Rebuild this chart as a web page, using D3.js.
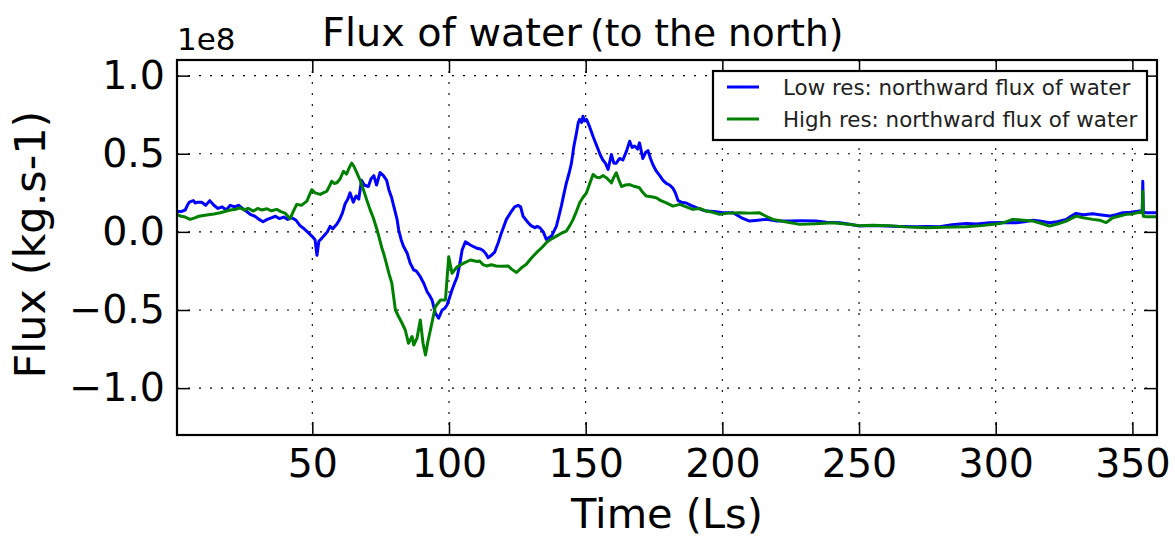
<!DOCTYPE html>
<html>
<head>
<meta charset="utf-8">
<script src="https://cdn.jsdelivr.net/npm/d3@7"></script>
<style>
  html, body { margin: 0; padding: 0; background: #fff; }
  svg { display: block; font-family: "DejaVu Sans", sans-serif; }
</style>
</head>
<body>
<svg id="chart" width="1175" height="543"></svg>
<script>
// Northward water flux (units of 1e8 kg/s) against solar longitude Ls
const lowRes = [
  [0.5,0.13],[2,0.13],[3.5,0.14],[4.3,0.17],[5,0.19],[6.5,0.2],[7.2,0.185],[8,0.19],[9.5,0.19],[11,0.17],[12.5,0.2],[14,0.17],
  [15.5,0.15],[17,0.16],[18.5,0.14],[20,0.17],[21.5,0.16],[23,0.17],[24.5,0.15],[26,0.13],[27.5,0.11],[29,0.1],
  [30.5,0.08],[32,0.065],[33.5,0.08],[35,0.09],[36.5,0.1],[38,0.085],[39.5,0.095],[41,0.08],[42.5,0.09],[44,0.075],
  [45.5,0.04],[47,0.02],[48.5,-0.005],[50,-0.03],[51,-0.05],[51.7,-0.15],[52.4,-0.06],[53.5,-0.04],[54.5,-0.02],[55.5,0.0],
  [56.5,0.035],[57.5,0.02],[59,0.05],[60,0.08],[61,0.12],[62,0.18],[63,0.21],[63.8,0.25],[65,0.19],[66,0.23],
  [67,0.21],[68,0.33],[69,0.30],[70.5,0.29],[71.5,0.34],[72.5,0.36],[73.5,0.3],[74.8,0.38],[76,0.36],[77.2,0.33],
  [78,0.27],[79,0.22],[80,0.15],[81,0.08],[81.6,0.012],[82.5,-0.05],[83.3,-0.09],[84.7,-0.137],[85.8,-0.2],[87.1,-0.244],[88,-0.25],
  [89.5,-0.287],[90.8,-0.33],[92,-0.383],[93,-0.41],[93.8,-0.436],[95,-0.52],[96.2,-0.553],[97.5,-0.5],[98.4,-0.49],[99.3,-0.468],
  [100.4,-0.41],[101.1,-0.372],[102,-0.33],[103,-0.287],[104,-0.2],[104.8,-0.116],[106,-0.063],[107.8,-0.084],[109,-0.095],[110.3,-0.105],
  [111.5,-0.11],[112.5,-0.12],[113.5,-0.14],[114.3,-0.165],[115.5,-0.15],[116.7,-0.13],[118,-0.07],[119.2,-0.005],[121,0.08],[122.8,0.13],
  [124,0.16],[125.3,0.17],[126.2,0.16],[127.1,0.10],[128.9,0.06],[130,0.04],[131.4,0.027],[132.3,0.035],[133.2,0.027],[134.5,0.0],
  [135.6,-0.048],[137.5,-0.027],[139.3,0.037],[140.2,0.1],[141.1,0.165],[142,0.24],[142.9,0.31],[144,0.38],[144.8,0.44],[145.7,0.55],
  [146.6,0.63],[147.3,0.70],[147.8,0.72],[148.5,0.7],[149,0.74],[149.6,0.71],[150.3,0.72],[151.5,0.67],[152.7,0.61],[153.6,0.57],
  [154.5,0.53],[155.4,0.49],[156.3,0.46],[157.2,0.44],[158.2,0.40],[159.4,0.495],[160.3,0.44],[161.2,0.44],[162.4,0.47],[163.6,0.46],
  [165,0.52],[166.1,0.58],[167,0.54],[167.9,0.55],[169,0.53],[169.7,0.57],[170.9,0.47],[172,0.51],[172.8,0.52],[173.7,0.47],
  [174.6,0.43],[175.8,0.39],[177.1,0.36],[178.3,0.33],[179.5,0.31],[180.7,0.30],[181.9,0.28],[182.8,0.25],[183.8,0.2],[185,0.19],
  [186.8,0.185],[188.5,0.17],[190.5,0.155],[192,0.145],[194.1,0.133],[197,0.13],[200.2,0.122],[203.9,0.122],[207,0.09],[210,0.069],
  [213,0.075],[216.1,0.08],[220,0.07],[224.6,0.069],[229,0.072],[234.3,0.069],[238,0.062],[242.9,0.059],[246,0.05],[250.2,0.037],
  [255,0.04],[259.9,0.037],[265,0.035],[270.9,0.033],[275,0.035],[279.4,0.033],[284,0.045],[289.2,0.054],[293,0.05],[297.7,0.059],
  [302,0.06],[307.5,0.059],[310.5,0.065],[313.6,0.075],[316,0.07],[319.7,0.059],[322.5,0.065],[325.8,0.08],[327.5,0.1],[329.4,0.118],
  [332,0.11],[335.5,0.116],[338,0.11],[341.6,0.101],[344,0.11],[346.5,0.122],[349.5,0.125],[352.6,0.133],[353.6,0.13],[353.8,0.324],
  [354,0.13],[355,0.122],[359,0.122]
];

const highRes = [
  [0.5,0.11],[2,0.1],[3.5,0.095],[5.3,0.08],[7,0.09],[8.5,0.1],[10.2,0.105],[12,0.11],[14,0.115],[16.3,0.122],
  [18,0.13],[20,0.14],[22,0.145],[23.6,0.155],[25,0.14],[26.5,0.15],[28.5,0.133],[30,0.15],[31.5,0.14],[33.4,0.148],
  [35,0.135],[37,0.144],[38.5,0.13],[40,0.12],[41.9,0.084],[43,0.13],[44.3,0.176],[46,0.17],[48,0.197],[49.8,0.27],
  [51,0.25],[52.9,0.24],[54,0.25],[55.3,0.26],[56.2,0.29],[57.1,0.324],[58,0.31],[59,0.314],[60.2,0.34],[61.4,0.388],
  [62.5,0.37],[63.5,0.41],[64.4,0.44],[65.2,0.42],[66.3,0.378],[67.5,0.33],[68.7,0.27],[70,0.2],[71.1,0.144],[72.3,0.09],
  [73.7,0.012],[74.5,-0.04],[75.4,-0.1],[76.3,-0.15],[77.2,-0.21],[78.1,-0.27],[79.1,-0.33],[80.4,-0.5],[81.5,-0.54],[82.7,-0.58],
  [84,-0.628],[85.2,-0.713],[86.5,-0.67],[87.1,-0.724],[88.3,-0.68],[89.5,-0.564],[90.5,-0.713],[91.4,-0.788],[92.3,-0.7],[93.2,-0.628],
  [95,-0.479],[96.9,-0.436],[98.7,-0.436],[99.9,-0.159],[101.1,-0.265],[103,-0.223],[105.4,-0.2],[107.8,-0.18],[110.3,-0.19],
  [111.2,-0.186],[112.5,-0.21],[113.7,-0.218],[115.5,-0.21],[117.3,-0.218],[119.5,-0.22],[121.6,-0.218],[123,-0.24],
  [124.7,-0.26],[126.5,-0.23],[128.3,-0.207],[130,-0.17],[132,-0.133],[134,-0.1],[135.6,-0.069],[137.5,-0.045],[139.3,-0.027],[141,-0.01],
  [142.9,0.005],[144.2,0.04],[145.4,0.08],[146.6,0.13],[147.8,0.186],[149,0.22],[150.3,0.25],[151.5,0.31],[152.7,0.367],[153.9,0.35],
  [155.1,0.346],[156.3,0.36],[157.6,0.346],[158.5,0.33],[159.4,0.314],[160.3,0.35],[161.2,0.378],[162.2,0.33],[163.1,0.29],[164.6,0.3],
  [166.1,0.303],[168,0.29],[169.7,0.282],[171,0.25],[172.2,0.229],[174,0.225],[175.8,0.218],[177.5,0.2],[179.5,0.186],[181.9,0.165],
  [184.4,0.176],[186.8,0.16],[189.2,0.144],[191.7,0.15],[194.1,0.133],[196.5,0.125],[199,0.112],[202,0.12],[206.3,0.122],[210,0.12],
  [213.6,0.122],[216,0.1],[218.5,0.08],[223,0.065],[228.3,0.048],[234,0.052],[240.4,0.059],[245,0.05],[250.2,0.04],[255,0.042],
  [261,0.04],[267,0.032],[274.6,0.027],[281,0.03],[289.2,0.033],[295,0.04],[301.4,0.054],[304,0.065],[306.2,0.08],[310,0.075],
  [313.6,0.069],[316.5,0.055],[319.7,0.037],[322.5,0.05],[325.8,0.069],[327.5,0.085],[329.4,0.101],[332,0.09],[335.5,0.08],[338,0.075],
  [340.4,0.059],[342.8,0.09],[345,0.1],[347.7,0.112],[350,0.115],[352.6,0.126],[353.6,0.12],[353.8,0.26],[354,0.1],[355,0.097],
  [359,0.097]
];

const xTicks = [50, 100, 150, 200, 250, 300, 350];
const yTicks = [-1.0, -0.5, 0.0, 0.5, 1.0];
const seriesNames = ["Low res: northward flux of water", "High res: northward flux of water"];
const seriesColors = ["#0000ff", "#008000"];
const titleMain = "Flux of water";
const titleSub = "(to the north)";
const xLabelText = "Time (Ls)";
const yLabelText = "Flux (kg.s-1)";
const offsetText = "1e8";

const svg = d3.select("#chart");
const plotLeft = 177, plotTop = 60, plotRight = 1157, plotBottom = 435;
const W = plotRight - plotLeft, H = plotBottom - plotTop;

const x = d3.scaleLinear().domain([0.5, 359]).range([0, W]);
const y = d3.scaleLinear().domain([-1.3, 1.1]).range([H, 0]);

const g = svg.append("g").attr("transform", `translate(${plotLeft},${plotTop})`);

svg.append("defs").append("clipPath").attr("id", "plotclip")
  .append("rect").attr("x", 0).attr("y", 0).attr("width", W).attr("height", H);

// dotted grid
const grid = g.append("g").attr("stroke", "#000").attr("stroke-width", 1.1)
  .attr("stroke-dasharray", "2,9");
grid.selectAll("line.gx").data(xTicks).join("line")
  .attr("x1", d => x(d)).attr("x2", d => x(d)).attr("y1", 0).attr("y2", H);
grid.selectAll("line.gy").data(yTicks).join("line")
  .attr("x1", 0).attr("x2", W).attr("y1", d => y(d)).attr("y2", d => y(d));

// series
const line = d3.line().x(d => x(d[0])).y(d => y(d[1]));
const plot = g.append("g").attr("clip-path", "url(#plotclip)");
[lowRes, highRes].forEach((s, i) => {
  plot.append("path").datum(s)
    .attr("fill", "none").attr("stroke", seriesColors[i])
    .attr("stroke-width", 3).attr("stroke-linejoin", "round")
    .attr("d", line);
});

// axes with inward ticks on all sides
const tickStyle = sel => {
  sel.select(".domain").remove();
  sel.selectAll(".tick line").attr("stroke", "#000").attr("stroke-width", 1.5);
  sel.selectAll(".tick text").attr("fill", "#000").attr("font-size", 39.5)
    .attr("font-family", "DejaVu Sans, sans-serif");
};
g.append("g").attr("transform", `translate(0,${H})`)
  .call(d3.axisBottom(x).tickValues(xTicks).tickSize(-13).tickPadding(14).tickFormat(d3.format("d")))
  .call(tickStyle);
g.append("g")
  .call(d3.axisTop(x).tickValues(xTicks).tickSize(-13).tickFormat(""))
  .call(tickStyle);
g.append("g")
  .call(d3.axisLeft(y).tickValues(yTicks).tickSize(-13).tickPadding(12).tickFormat(d3.format(".1f")))
  .call(tickStyle);
g.append("g").attr("transform", `translate(${W},0)`)
  .call(d3.axisRight(y).tickValues(yTicks).tickSize(-13).tickFormat(""))
  .call(tickStyle);

// frame
g.append("rect").attr("x", 0).attr("y", 0).attr("width", W).attr("height", H)
  .attr("fill", "none").attr("stroke", "#000").attr("stroke-width", 2.2);

// texts
const title = svg.append("text").attr("y", 46).attr("fill", "#000");
title.append("tspan").attr("x", 322).attr("font-size", 39.8).text(titleMain);
title.append("tspan").attr("x", 590).attr("font-size", 37.6).text(titleSub);
svg.append("text").attr("x", 177).attr("y", 50).attr("font-size", 31)
  .attr("fill", "#000").text(offsetText);
svg.append("text").attr("x", plotLeft + W / 2).attr("y", 528).attr("text-anchor", "middle")
  .attr("font-size", 41.5).attr("fill", "#000").text(xLabelText);
svg.append("text").attr("transform", `translate(45,${plotTop + H / 2 - 3}) rotate(-90)`)
  .attr("text-anchor", "middle").attr("font-size", 43).attr("fill", "#000").text(yLabelText);

// legend
const lg = svg.append("g");
lg.append("rect").attr("x", 713).attr("y", 71).attr("width", 434).attr("height", 69)
  .attr("fill", "#fff").attr("stroke", "#000").attr("stroke-width", 2.2);
seriesNames.forEach((name, i) => {
  const ly = 87 + i * 32;
  lg.append("line").attr("x1", 727).attr("x2", 759).attr("y1", ly).attr("y2", ly)
    .attr("stroke", seriesColors[i]).attr("stroke-width", 3);
  lg.append("text").attr("x", 783).attr("y", ly).attr("dy", "0.36em")
    .attr("font-size", 21.4).attr("fill", "#222").text(name);
});
</script>
</body>
</html>
